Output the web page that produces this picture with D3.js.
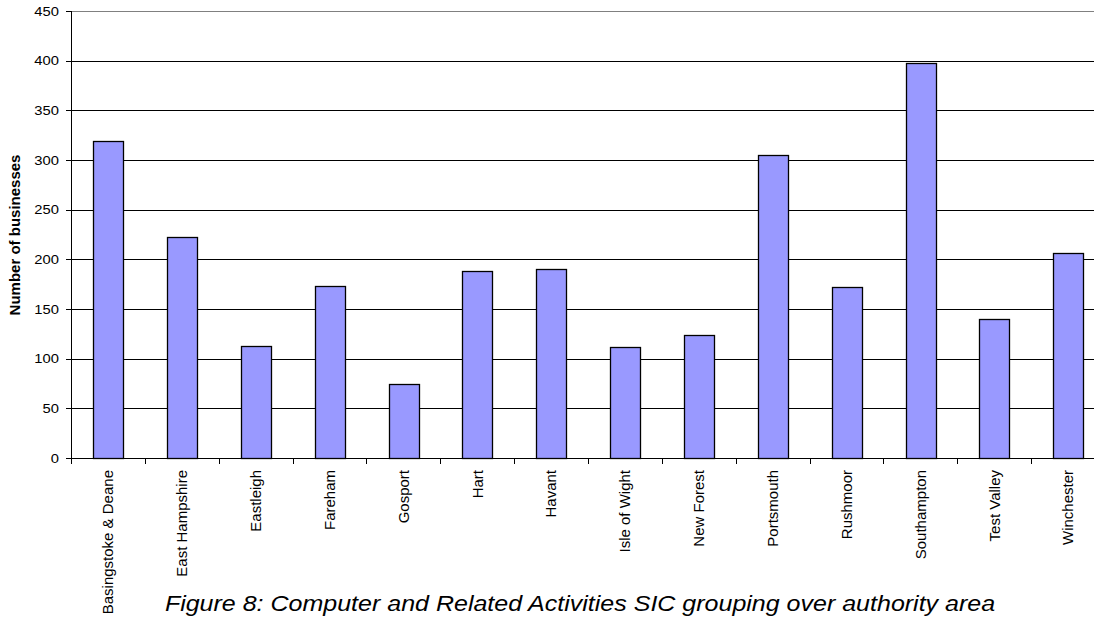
<!DOCTYPE html>
<html>
<head>
<meta charset="utf-8">
<script src="https://cdn.jsdelivr.net/npm/d3@7"></script>
<style>
  html, body { margin: 0; padding: 0; background: #fff; overflow: hidden; }
  svg { display: block; font-family: "Liberation Sans", Arial, sans-serif; }
</style>
</head>
<body>
<svg id="chart" width="1094" height="617"></svg>
<script>
const categories = ["Basingstoke & Deane", "East Hampshire", "Eastleigh", "Fareham", "Gosport", "Hart", "Havant", "Isle of Wight", "New Forest", "Portsmouth", "Rushmoor", "Southampton", "Test Valley", "Winchester"];
const businesses = [319, 222, 113, 173, 75, 188, 190, 112, 124, 305, 172, 398, 140, 206];
const yTicks = [0, 50, 100, 150, 200, 250, 300, 350, 400, 450];
const yTitle = "Number of businesses";
const caption = "Figure 8: Computer and Related Activities SIC grouping over authority area";

const svg = d3.select("#chart");
const plotL = 71, plotR = 1105, plotT = 11, plotB = 458;
const stretch = 1.137;

const x = d3.scaleBand().domain(categories).range([plotL, plotR]).paddingInner(0.6).paddingOuter(0.3);
const y = d3.scaleLinear().domain([0, 450]).range([plotB, plotT]);

const crisp = v => Math.round(v) + 0.5;

// gridlines
svg.append("g").selectAll("line").data(yTicks.filter(d => d > 0)).join("line")
  .attr("x1", plotL).attr("x2", plotR)
  .attr("y1", d => crisp(y(d))).attr("y2", d => crisp(y(d)))
  .attr("stroke", d => d === 450 ? "#808080" : "#000").attr("stroke-width", 1);

// bars
svg.append("g").selectAll("rect").data(categories).join("rect")
  .attr("x", d => Math.round(x(d)) + 0.5)
  .attr("y", (d, i) => Math.round(y(businesses[i])) + 0.5)
  .attr("width", Math.round(x.bandwidth()))
  .attr("height", (d, i) => Math.round(y(0)) - Math.round(y(businesses[i])))
  .attr("fill", "#9999FF").attr("stroke", "#000").attr("stroke-width", 1.3);

// y axis
const yAxis = svg.append("g");
yAxis.append("line").attr("x1", crisp(plotL)).attr("x2", crisp(plotL)).attr("y1", plotT).attr("y2", crisp(plotB)).attr("stroke", "#000");
yAxis.selectAll("line.t").data(yTicks).join("line").attr("class", "t")
  .attr("x1", plotL - 5).attr("x2", plotL).attr("y1", d => crisp(y(d))).attr("y2", d => crisp(y(d))).attr("stroke", "#000");
yAxis.selectAll("text").data(yTicks).join("text")
  .attr("transform", d => `translate(59,${y(d)}) scale(${stretch},1)`)
  .attr("dy", "0.36em")
  .attr("text-anchor", "end").attr("font-size", 13).attr("fill", "#000")
  .text(d => d);

// x axis
const xAxis = svg.append("g");
xAxis.append("line").attr("x1", plotL).attr("x2", plotR).attr("y1", crisp(plotB)).attr("y2", crisp(plotB)).attr("stroke", "#000");
const bounds = d3.range(categories.length + 1).map(i => x.range()[0] + i * x.step());
xAxis.selectAll("line.t").data(bounds).join("line").attr("class", "t")
  .attr("x1", d => crisp(d)).attr("x2", d => crisp(d)).attr("y1", plotB).attr("y2", plotB + 6).attr("stroke", "#000");
xAxis.selectAll("text").data(categories).join("text")
  .attr("transform", d => `translate(${x(d) + x.bandwidth() / 2},470) rotate(-90)`)
  .attr("dy", "0.36em").attr("text-anchor", "end").attr("font-size", 15).attr("fill", "#000")
  .text(d => d);

// y title
svg.append("text").attr("transform", `translate(15,235) rotate(-90)`)
  .attr("dy", "0.36em").attr("text-anchor", "middle").attr("font-size", 15).attr("font-weight", "bold")
  .text(yTitle);

// caption
svg.append("text").attr("transform", `translate(580,611) scale(${stretch},1)`).attr("text-anchor", "middle")
  .attr("font-size", 22).attr("font-style", "italic").text(caption);
</script>
</body>
</html>
